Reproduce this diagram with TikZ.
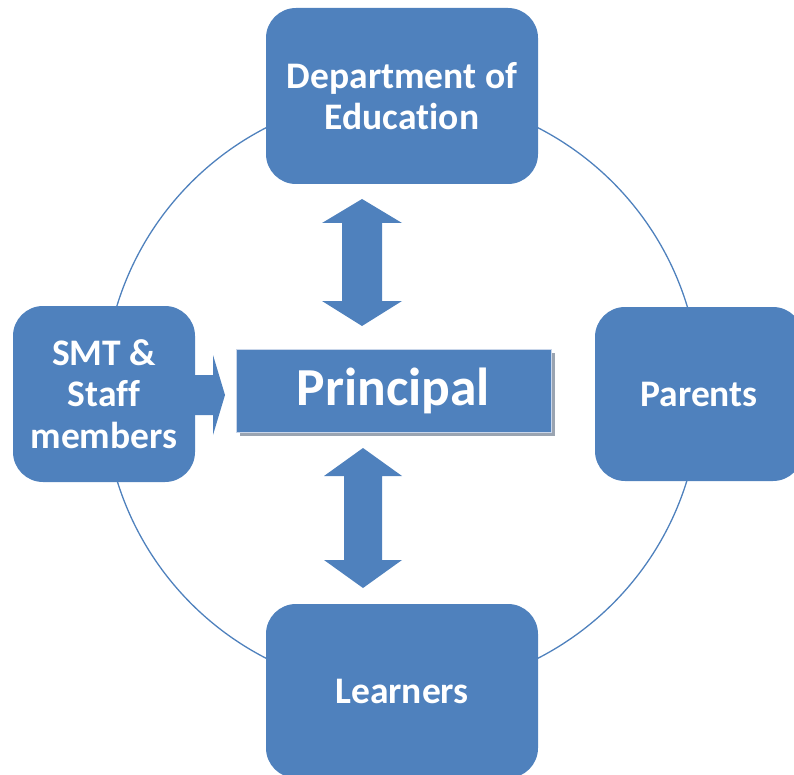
\documentclass[tikz,border=0pt]{standalone}
\usepackage{fontspec}
\setmainfont{Carlito}
\definecolor{ofblue}{HTML}{4F81BD}
\definecolor{shadowgray}{HTML}{9AA4B1}
\definecolor{rimblue}{HTML}{C9D6EA}
\begin{document}
\begin{tikzpicture}[x=1pt,y=-1pt,
  box/.style={fill=ofblue, rounded corners=30pt, inner sep=0pt, text=white,
    align=center, font=\bfseries\fontsize{37.5}{41.5}\selectfont\addfontfeature{Ligatures=NoCommon}},
  blockarrow/.style={fill=ofblue},
  ring/.style={draw=ofblue, line width=1.3pt}]
\useasboundingbox (0,0) rectangle (794,775);
\begin{scope}
\clip (0,0) rectangle (794,775);
\draw[ring] (402,393) circle [radius=298pt];
\node[box, minimum width=272pt, minimum height=176pt] (dept) at (402,96) {Department of\\Education};
\node[box, minimum width=182pt, minimum height=176pt] (smt) at (104,394) {SMT \&\\Staff\\members};
\node[box, minimum width=208pt, minimum height=174pt] (parents) at (699,394) {Parents};
\node[box, minimum width=272pt, minimum height=174pt] (learners) at (402,691) {Learners};
% block arrows
\fill[blockarrow] (362,199) -- (402,223) -- (382,223) -- (382,301) -- (402,301) -- (362,326)
  -- (322,301) -- (342,301) -- (342,223) -- (322,223) -- cycle;
\fill[blockarrow] (363,448) -- (402,476) -- (382,476) -- (382,560) -- (402,560) -- (363,588)
  -- (324,560) -- (344,560) -- (344,476) -- (324,476) -- cycle;
\fill[blockarrow] (smt.east |- 0,375) -- (213,375) -- (213,355) -- (225,395) -- (213,435)
  -- (213,415) -- (smt.east |- 0,415) -- cycle;
% principal
\fill[shadowgray] (240,353) rectangle (555,436);
\node[fill=ofblue, draw=rimblue, line width=1pt, minimum width=315pt, minimum height=83pt,
  inner sep=0pt, text=white, font=\bfseries\fontsize{53.5}{60}\selectfont] (principal) at (393.5,390.5) {\raisebox{-3pt}{Principal}};
\end{scope}
\end{tikzpicture}
\end{document}
